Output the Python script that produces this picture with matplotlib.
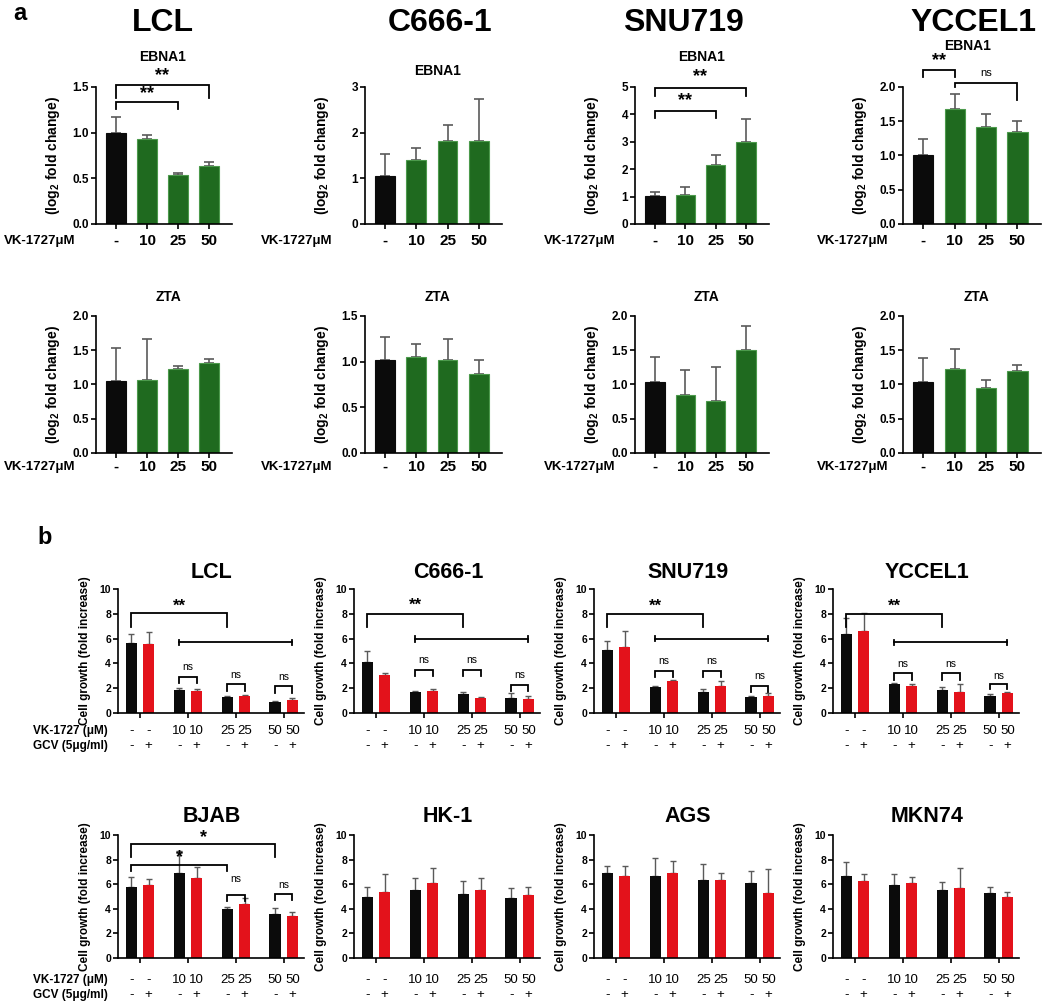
import matplotlib
matplotlib.use('Agg')
import matplotlib.pyplot as plt
from matplotlib.transforms import blended_transform_factory

plt.rcParams['font.family'] = ['Liberation Sans', 'DejaVu Sans']
plt.rcParams['mathtext.fontset'] = 'custom'
plt.rcParams['mathtext.rm'] = 'Liberation Sans'
plt.rcParams['mathtext.bf'] = 'Liberation Sans:bold'

# ---------------- data: panel a ----------------
a_cells = ['LCL', 'C666-1', 'SNU719', 'YCCEL1']
a_doses = ['-', '10', '25', '50']

lcl_ebna1 = [1.00, 0.93, 0.54, 0.64]
lcl_ebna1_err = [0.17, 0.04, 0.02, 0.04]
c666_ebna1 = [1.06, 1.40, 1.82, 1.81]
c666_ebna1_err = [0.48, 0.27, 0.35, 0.93]
snu_ebna1 = [1.01, 1.05, 2.15, 2.98]
snu_ebna1_err = [0.15, 0.30, 0.36, 0.87]
ycc_ebna1 = [1.01, 1.68, 1.41, 1.34]
ycc_ebna1_err = [0.23, 0.22, 0.20, 0.17]

lcl_zta = [1.05, 1.07, 1.23, 1.32]
lcl_zta_err = [0.48, 0.59, 0.04, 0.05]
c666_zta = [1.02, 1.05, 1.02, 0.86]
c666_zta_err = [0.25, 0.14, 0.23, 0.16]
snu_zta = [1.03, 0.85, 0.76, 1.50]
snu_zta_err = [0.37, 0.36, 0.50, 0.36]
ycc_zta = [1.04, 1.22, 0.95, 1.20]
ycc_zta_err = [0.35, 0.30, 0.11, 0.08]

ebna1_ymax = [1.5, 3, 5, 2.0]
ebna1_ticks = [[0, 0.5, 1.0, 1.5], [0, 1, 2, 3], [0, 1, 2, 3, 4, 5], [0, 0.5, 1.0, 1.5, 2.0]]
zta_ymax = [2.0, 1.5, 2.0, 2.0]
zta_ticks = [[0, 0.5, 1.0, 1.5, 2.0], [0, 0.5, 1.0, 1.5], [0, 0.5, 1.0, 1.5, 2.0], [0, 0.5, 1.0, 1.5, 2.0]]

# ---------------- data: panel b ----------------
b_cells = ['LCL', 'C666-1', 'SNU719', 'YCCEL1', 'BJAB', 'HK-1', 'AGS', 'MKN74']
b_vk_labels = ['-', '-', '10', '10', '25', '25', '50', '50']
b_gcv_labels = ['-', '+', '-', '+', '-', '+', '-', '+']

# GCV - (black) and GCV + (red), per VK-1727 dose group (-, 10, 25, 50)
lcl_ctrl = [5.68, 1.84, 1.30, 0.85]
lcl_ctrl_err = [0.67, 0.21, 0.05, 0.15]
lcl_gcv = [5.54, 1.78, 1.38, 1.05]
lcl_gcv_err = [1.00, 0.19, 0.11, 0.20]

c666_ctrl = [4.14, 1.69, 1.50, 1.20]
c666_ctrl_err = [0.86, 0.11, 0.20, 0.40]
c666_gcv = [3.09, 1.80, 1.20, 1.15]
c666_gcv_err = [0.16, 0.16, 0.10, 0.20]

snu_ctrl = [5.10, 2.10, 1.70, 1.30]
snu_ctrl_err = [0.70, 0.10, 0.20, 0.05]
snu_gcv = [5.30, 2.60, 2.20, 1.40]
snu_gcv_err = [1.30, 0.10, 0.40, 0.20]

ycc_ctrl = [6.35, 2.30, 1.86, 1.40]
ycc_ctrl_err = [1.30, 0.08, 0.22, 0.10]
ycc_gcv = [6.62, 2.16, 1.68, 1.60]
ycc_gcv_err = [1.48, 0.19, 0.62, 0.10]

bjab_ctrl = [5.80, 6.90, 4.00, 3.60]
bjab_ctrl_err = [0.75, 1.80, 0.15, 0.50]
bjab_gcv = [5.95, 6.50, 4.35, 3.45]
bjab_gcv_err = [0.50, 0.90, 0.55, 0.25]

hk1_ctrl = [5.00, 5.54, 5.24, 4.84]
hk1_ctrl_err = [0.80, 1.00, 0.98, 0.89]
hk1_gcv = [5.38, 6.08, 5.51, 5.10]
hk1_gcv_err = [1.46, 1.27, 1.03, 0.70]

ags_ctrl = [6.90, 6.64, 6.37, 6.10]
ags_ctrl_err = [0.55, 1.49, 1.30, 0.95]
ags_gcv = [6.64, 6.90, 6.37, 5.26]
ags_gcv_err = [0.86, 1.00, 0.51, 1.94]

mkn_ctrl = [6.70, 5.90, 5.50, 5.30]
mkn_ctrl_err = [1.10, 0.90, 0.70, 0.50]
mkn_gcv = [6.30, 6.10, 5.70, 5.00]
mkn_gcv_err = [0.50, 0.50, 1.60, 0.40]

b_ctrl = [lcl_ctrl, c666_ctrl, snu_ctrl, ycc_ctrl, bjab_ctrl, hk1_ctrl, ags_ctrl, mkn_ctrl]
b_ctrl_err = [lcl_ctrl_err, c666_ctrl_err, snu_ctrl_err, ycc_ctrl_err, bjab_ctrl_err,
              hk1_ctrl_err, ags_ctrl_err, mkn_ctrl_err]
b_gcv = [lcl_gcv, c666_gcv, snu_gcv, ycc_gcv, bjab_gcv, hk1_gcv, ags_gcv, mkn_gcv]
b_gcv_err = [lcl_gcv_err, c666_gcv_err, snu_gcv_err, ycc_gcv_err, bjab_gcv_err,
             hk1_gcv_err, ags_gcv_err, mkn_gcv_err]

# ---------------- figure ----------------
W, H = 1050, 1006
fig = plt.figure(figsize=(W / 100, H / 100), dpi=100)

BLACK = '#0b0b0b'
GREEN = '#1f6a1f'
GREEN_EDGE = '#4c9a4c'
RED = '#e3121b'
ERR = '#5a5a5a'


def add_ax(left, top, right, bottom):
    return fig.add_axes([left / W, 1 - bottom / H, (right - left) / W, (bottom - top) / H])


def style_ax(ax, lw=1.2):
    for s in ['top', 'right']:
        ax.spines[s].set_visible(False)
    for s in ['left', 'bottom']:
        ax.spines[s].set_linewidth(lw)
    ax.tick_params(width=lw, length=3.5)


def bracket(ax, x1, x2, y, yl1, yl2, text=None, ty=None, fs=10, bold=True, lw=1.3):
    ax.plot([x1, x1, x2, x2], [yl1, y, y, yl2], color='k', lw=lw, clip_on=False,
            solid_joinstyle='miter')
    if text:
        ax.text((x1 + x2) / 2, ty, text, ha='center', va='center', fontsize=fs,
                fontweight='bold' if bold else 'normal', clip_on=False)


# ---------- panel a ----------
a_cols = [(96, 232), (365, 502), (635, 769), (903, 1041)]
row_tb = [(87, 224), (316, 453)]
ebna1_vals = [lcl_ebna1, c666_ebna1, snu_ebna1, ycc_ebna1]
ebna1_errs = [lcl_ebna1_err, c666_ebna1_err, snu_ebna1_err, ycc_ebna1_err]
zta_vals = [lcl_zta, c666_zta, snu_zta, ycc_zta]
zta_errs = [lcl_zta_err, c666_zta_err, snu_zta_err, ycc_zta_err]
big_title_x = [163, 440, 683, 973]
ebna1_title_pos = [(163, 57), (438, 71), (702, 57), (968, 46)]
vk_label_right = [75, 332, 615, 888]
a_label_y = [241, 467]

fig.text(20 / W, 1 - 14 / H, 'a', fontsize=17, fontweight='bold', ha='center', va='center')
fig.text(45 / W, 1 - 537 / H, 'b', fontsize=17, fontweight='bold', ha='center', va='center')

for ci in range(4):
    fig.text(big_title_x[ci] / W, 1 - 23 / H, a_cells[ci], fontsize=23, fontweight='bold',
             ha='center', va='center')
    for ri in range(2):
        top, bot = row_tb[ri]
        l, r = a_cols[ci]
        ax = add_ax(l, top, r, bot)
        style_ax(ax)
        if ri == 0:
            vals, errs, ymax, ticks = ebna1_vals[ci], ebna1_errs[ci], ebna1_ymax[ci], ebna1_ticks[ci]
        else:
            vals, errs, ymax, ticks = zta_vals[ci], zta_errs[ci], zta_ymax[ci], zta_ticks[ci]
        xs = list(range(4))
        colors = [BLACK, GREEN, GREEN, GREEN]
        edges = [BLACK, GREEN_EDGE, GREEN_EDGE, GREEN_EDGE]
        ax.errorbar(xs, vals, yerr=[[0] * 4, errs], fmt='none', ecolor=ERR, elinewidth=1.2,
                    capsize=3.5, capthick=1.2, zorder=1)
        ax.bar(xs, vals, width=0.64, color=colors, edgecolor=edges, linewidth=0.8, zorder=2)
        ax.set_xlim(-0.65, 3.75)
        ax.set_ylim(0, ymax)
        ax.set_yticks(ticks)
        if ymax in (3, 5):
            ax.set_yticklabels(['%d' % t for t in ticks])
        else:
            ax.set_yticklabels(['%.1f' % t for t in ticks])
        for tl in ax.get_yticklabels():
            tl.set_fontweight('bold')
            tl.set_fontsize(8.5)
        ax.tick_params(axis='y', pad=1.5)
        ax.set_xticks(xs)
        ax.set_xticklabels([])
        ax.set_ylabel(r'(log$_\mathbf{2}$ fold change)', fontsize=10, fontweight='bold')
        ax.yaxis.set_label_coords(-34 / (r - l), 0.5)
        tr = blended_transform_factory(ax.transData, fig.transFigure)
        for x, lab in zip(xs, a_doses):
            ax.text(x, 1 - a_label_y[ri] / H, lab, transform=tr, ha='center', va='center',
                    fontsize=11, fontweight='bold')
        fig.text(vk_label_right[ci] / W, 1 - a_label_y[ri] / H, 'VK-1727\u03bcM', ha='right',
                 va='center', fontsize=9.5, fontweight='bold')
        if ri == 0:
            tx, ty = ebna1_title_pos[ci]
            fig.text(tx / W, 1 - ty / H, 'EBNA1', fontsize=10, fontweight='bold', ha='center',
                     va='center')
        else:
            fig.text((l + r) / 2 / W + 0.004, 1 - 297 / H, 'ZTA', fontsize=10, fontweight='bold',
                     ha='center', va='center')
        # significance
        if ri == 0 and ci == 0:
            bracket(ax, 0, 3, 1.52, 1.38, 1.38, '**', 1.63, fs=13)
            bracket(ax, 0, 2, 1.34, 1.26, 1.26, '**', 1.43, fs=13)
        if ri == 0 and ci == 2:
            bracket(ax, 0, 3, 4.96, 4.67, 4.67, '**', 5.38, fs=13)
            bracket(ax, 0, 2, 4.13, 3.87, 3.87, '**', 4.50, fs=13)
        if ri == 0 and ci == 3:
            bracket(ax, 0, 1, 2.25, 2.15, 2.15, '**', 2.39, fs=13)
            bracket(ax, 1, 3, 2.06, 2.0, 1.81, 'ns', 2.21, fs=8, bold=False)

# ---------- panel b ----------
b_cols = [118, 354, 594, 833]
b_width = 186
b_rows = [(589, 713), (835, 958)]
b_title_y = [572, 817]
b_lab_y = [(731, 746), (980, 995)]
off = 0.18
bw = 0.24

for k in range(8):
    ri, ci = divmod(k, 4)
    l = b_cols[ci]
    top, bot = b_rows[ri]
    ax = add_ax(l, top, l + b_width, bot)
    style_ax(ax)
    groups = [0, 1, 2, 3]
    xb = [g - off for g in groups]
    xr = [g + off for g in groups]
    ax.errorbar(xb, b_ctrl[k], yerr=[[0] * 4, b_ctrl_err[k]], fmt='none', ecolor=ERR,
                elinewidth=1.0, capsize=2, capthick=1.0, zorder=1)
    ax.errorbar(xr, b_gcv[k], yerr=[[0] * 4, b_gcv_err[k]], fmt='none', ecolor=ERR,
                elinewidth=1.0, capsize=2, capthick=1.0, zorder=1)
    ax.bar(xb, b_ctrl[k], width=bw, color=BLACK, zorder=2)
    ax.bar(xr, b_gcv[k], width=bw, color=RED, zorder=2)
    ax.set_xlim(-0.46, 3.42)
    ax.set_ylim(0, 10)
    ax.set_yticks([0, 2, 4, 6, 8, 10])
    ax.set_yticklabels(['0', '2', '4', '6', '8', '10'], fontsize=7.5, fontweight='bold')
    ax.tick_params(axis='y', pad=1.5)
    ax.set_xticks(groups)
    ax.set_xticklabels([])
    ax.set_ylabel('Cell growth (fold increase)', fontsize=8.5, fontweight='bold')
    ax.yaxis.set_label_coords(-27 / b_width, 0.5)
    ax.text(1.5, 1 - b_title_y[ri] / H, b_cells[k], fontsize=15.5, fontweight='bold', ha='center',
            va='center', transform=blended_transform_factory(ax.transData, fig.transFigure))
    tr = blended_transform_factory(ax.transData, fig.transFigure)
    xall = []
    for g in groups:
        xall += [g - off, g + off]
    for x, v, gl in zip(xall, b_vk_labels, b_gcv_labels):
        ax.text(x, 1 - b_lab_y[ri][0] / H, v, transform=tr, ha='center', va='center', fontsize=9.5)
        ax.text(x, 1 - b_lab_y[ri][1] / H, gl, transform=tr, ha='center', va='center', fontsize=9.5)
    if ci == 0:
        fig.text(33 / W, 1 - b_lab_y[ri][0] / H, 'VK-1727 (\u03bcM)', ha='left', va='center',
                 fontsize=8.5, fontweight='bold')
        fig.text(33 / W, 1 - b_lab_y[ri][1] / H, 'GCV (5\u03bcg/ml)', ha='left', va='center',
                 fontsize=8.5, fontweight='bold')

    if k in (0, 1, 2, 3):
        star_y = [(8.05, 6.9, 8.6), (8.0, 6.9, 8.65), (8.0, 6.9, 8.6), (8.0, 6.9, 8.6)][k]
        bracket(ax, -off, 2 - off, star_y[0], star_y[1], star_y[1], '**', star_y[2], fs=12)
        ly = [5.7, 5.97, 6.0, 5.7][k]
        ax.plot([1 - off, 3 + off], [ly, ly], color='k', lw=1.3, clip_on=False)
        for xe in (1 - off, 3 + off):
            ax.plot([xe, xe], [ly - 0.22, ly + 0.22], color='k', lw=1.3, clip_on=False)
        ns_spec = [
            [(2.92, 2.38, 3.7), (2.32, 1.78, 3.05), (2.2, 1.6, 2.9)],
            [(3.47, 3.0, 4.27), (3.47, 3.0, 4.27), (2.28, 1.8, 3.06)],
            [(3.4, 2.9, 4.2), (3.4, 2.9, 4.2), (2.2, 1.7, 3.0)],
            [(3.2, 2.7, 3.95), (3.2, 2.7, 3.95), (2.3, 1.9, 3.0)],
        ][k]
        for g, (hy, dy, ty) in zip([1, 2, 3], ns_spec):
            bracket(ax, g - off, g + off, hy, dy, dy, 'ns', ty, fs=7.5, bold=False)
    if k == 4:
        bracket(ax, -off, 3 - off, 9.27, 8.24, 8.24, '*', 9.75, fs=13)
        bracket(ax, -off, 2 - off, 7.57, 7.1, 7.1, '*', 8.2, fs=13)
        bracket(ax, 2 - off, 2 + off, 5.1, 4.6, 4.6, 'ns', 6.4, fs=7.5, bold=False)
        bracket(ax, 3 - off, 3 + off, 5.2, 4.7, 4.7, 'ns', 5.9, fs=7.5, bold=False)

fig.savefig('out.png', dpi=100)
